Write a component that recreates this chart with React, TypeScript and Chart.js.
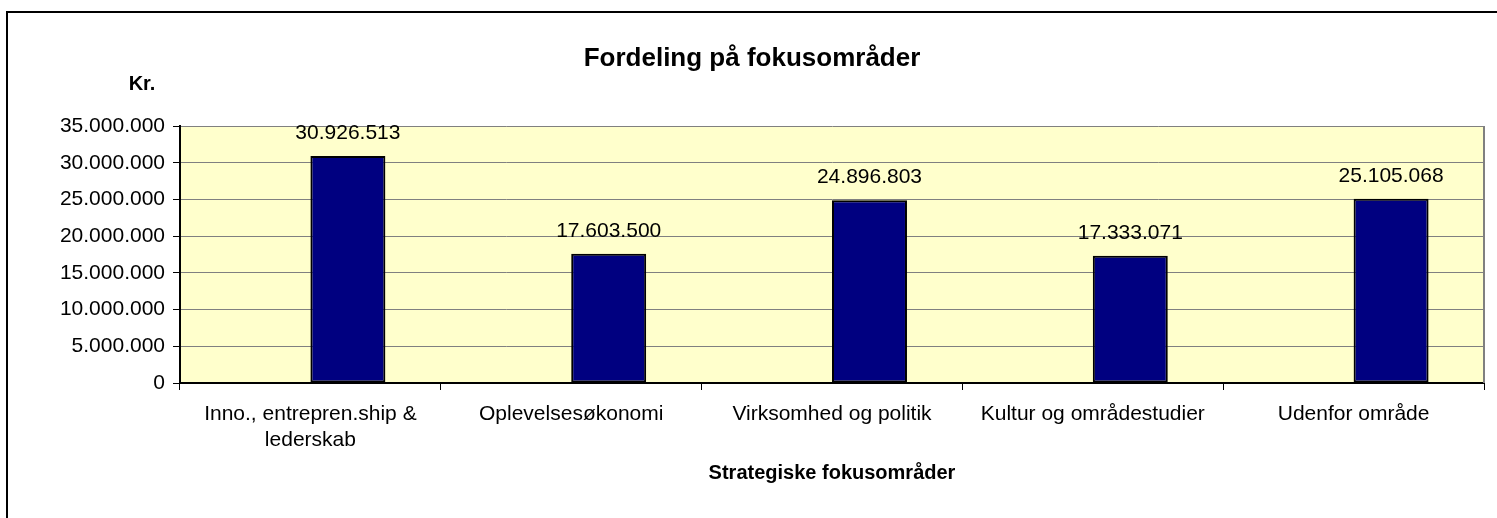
import React, { useEffect, useRef } from "react";
import { Chart, registerables } from "chart.js";

Chart.register(...registerables);

const chartTitle = "Fordeling på fokusområder";
const yAxisTitle = "Kr.";
const xAxisTitle = "Strategiske fokusområder";

const categories: (string | string[])[] = [
  ["Inno., entrepren.ship &", "lederskab"],
  "Oplevelsesøkonomi",
  "Virksomhed og politik",
  "Kultur og områdestudier",
  "Udenfor område",
];

// Excel chart had an empty first series that reserves the left half of each category
const emptySeries: (number | null)[] = [null, null, null, null, null];
const amounts: number[] = [30926513, 17603500, 24896803, 17333071, 25105068];

const yTicks: number[] = [0, 5000000, 10000000, 15000000, 20000000, 25000000, 30000000, 35000000];

const FONT = "Arial, 'Liberation Sans', sans-serif";

const fmt = (v: number) => String(Math.round(v)).replace(/\B(?=(\d{3})+(?!\d))/g, ".");

const decorPlugin = {
  id: "decor",
  beforeDraw(chart: any) {
    const { ctx, chartArea: a } = chart;
    ctx.save();
    ctx.fillStyle = "#ffffff";
    ctx.fillRect(0, 0, chart.width, chart.height);
    ctx.fillStyle = "#FFFFCC";
    ctx.fillRect(a.left, a.top, a.right - a.left, a.bottom - a.top);
    ctx.strokeStyle = "#000000";
    ctx.lineWidth = 2;
    ctx.strokeRect(7, 12, chart.width + 50, chart.height + 50);
    ctx.restore();
  },
  afterDatasetsDraw(chart: any) {
    const { ctx } = chart;
    const meta = chart.getDatasetMeta(1);
    ctx.save();
    ctx.fillStyle = "#000000";
    ctx.font = `21px ${FONT}`;
    ctx.textAlign = "center";
    ctx.textBaseline = "alphabetic";
    meta.data.forEach((bar: any, i: number) => {
      const v = chart.data.datasets[1].data[i];
      if (v == null) return;
      ctx.fillText(fmt(v), bar.x, bar.y - 17);
    });
    ctx.restore();
  },
  afterDraw(chart: any) {
    const { ctx, chartArea: a } = chart;
    ctx.save();
    ctx.strokeStyle = "#808080";
    ctx.lineWidth = 2;
    ctx.beginPath();
    ctx.moveTo(a.right, a.top);
    ctx.lineTo(a.right, a.bottom);
    ctx.stroke();

    ctx.fillStyle = "#000000";
    ctx.textAlign = "center";
    ctx.textBaseline = "alphabetic";
    ctx.font = `bold 26px ${FONT}`;
    ctx.fillText(chartTitle, 752, 66);
    ctx.font = `bold 20px ${FONT}`;
    ctx.fillText(yAxisTitle, 142, 90);
    ctx.restore();
  },
};

export default function App() {
  const ref = useRef<HTMLCanvasElement | null>(null);

  useEffect(() => {
    if (!ref.current) return;
    const chart = new Chart(ref.current, {
      type: "bar",
      data: {
        labels: categories,
        datasets: [
          {
            label: "",
            data: emptySeries,
            backgroundColor: "#000080",
            borderColor: "#000000",
            borderWidth: 2,
          },
          {
            label: "Kr.",
            data: amounts,
            backgroundColor: "#000080",
            borderColor: "#000000",
            borderWidth: 2,
            borderSkipped: false,
          },
        ],
      },
      options: {
        responsive: false,
        animation: false,
        devicePixelRatio: 1,
        layout: { padding: { top: 126, left: 10, right: 13, bottom: 18 } },
        datasets: {
          bar: { categoryPercentage: 0.575, barPercentage: 1.0 },
        },
        plugins: {
          legend: { display: false },
          tooltip: { enabled: false },
          title: { display: false },
        },
        scales: {
          x: {
            grid: {
              display: true,
              drawOnChartArea: false,
              drawTicks: true,
              tickLength: 7,
              tickColor: "#000000",
              offset: true,
            },
            border: { display: true, color: "#000000", width: 2 },
            ticks: {
              color: "#000000",
              padding: 11,
              maxRotation: 0,
              autoSkip: false,
              font: { family: FONT, size: 21, lineHeight: 26 / 21 },
            },
            title: {
              display: true,
              text: xAxisTitle,
              color: "#000000",
              font: { family: FONT, size: 20, weight: "bold", lineHeight: 1.2 },
              padding: { top: 10, bottom: 15 },
            },
            afterFit(scale: any) {
              scale.height = 518 - 18 - 383;
            },
          },
          y: {
            min: 0,
            max: 35000000,
            grid: {
              color: (c: any) => (c.tick && c.tick.value === 0 ? "#000000" : "#808080"),
              lineWidth: 1,
              tickLength: 7,
              tickColor: "#000000",
            },
            border: { display: true, color: "#000000", width: 2 },
            ticks: {
              color: "#000000",
              padding: 8,
              font: { family: FONT, size: 21 },
              callback: (v: any) => fmt(Number(v)),
            },
            afterBuildTicks(scale: any) {
              scale.ticks = yTicks.map((v) => ({ value: v }));
            },
            afterFit(scale: any) {
              scale.width = 180 - 10;
            },
          },
        },
      },
      plugins: [decorPlugin],
    });
    return () => chart.destroy();
  }, []);

  return (
    <div style={{ position: "absolute", left: 0, top: 0, width: 1497, height: 518, background: "#fff" }}>
      <canvas ref={ref} width={1497} height={518} style={{ display: "block" }} />
    </div>
  );
}
